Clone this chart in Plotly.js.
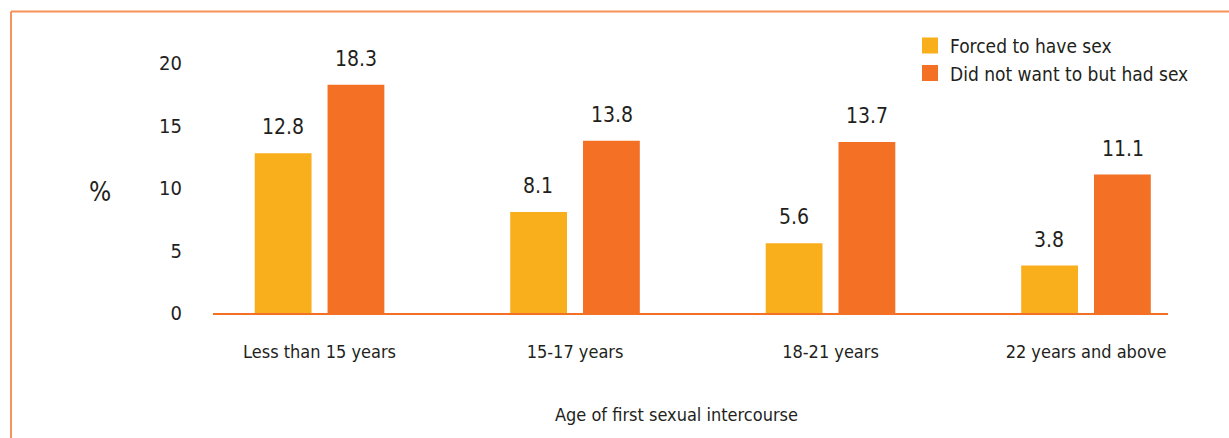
<!DOCTYPE html>
<html>
<head>
<meta charset="utf-8">
<script src="https://cdn.plot.ly/plotly-3.0.1.min.js"></script>
<style>
  html, body { margin: 0; padding: 0; background: #fff; }
  #chart { width: 1229px; height: 438px; }
</style>
</head>
<body>
<div id="chart"></div>
<script>
const categories = ["Less than 15 years", "15-17 years", "18-21 years", "22 years and above"];
const forced = [12.8, 8.1, 5.6, 3.8];
const didNotWant = [18.3, 13.8, 13.7, 11.1];
const seriesNames = ["Forced to have sex", "Did not want to but had sex"];
const yTicks = [0, 5, 10, 15, 20];

const FONT = '"DejaVu Sans Condensed", "Liberation Sans Narrow", "Liberation Sans", Arial, sans-serif';
const TXT = '#231F20';
const C1 = '#F9AE1B';
const C2 = '#F37024';

const traces = [
  { type: 'bar', name: seriesNames[0], x: categories, y: forced, marker: { color: C1 }, showlegend: false },
  { type: 'bar', name: seriesNames[1], x: categories, y: didNotWant, marker: { color: C2 }, showlegend: false },
  { type: 'scatter', mode: 'markers', name: seriesNames[0], x: [null], y: [null],
    marker: { symbol: 'square', size: 19, color: C1 }, showlegend: true },
  { type: 'scatter', mode: 'markers', name: seriesNames[1], x: [null], y: [null],
    marker: { symbol: 'square', size: 19, color: C2 }, showlegend: true }
];

const off = 0.143;
const annotations = [];
[forced, didNotWant].forEach((vals, s) => {
  vals.forEach((v, i) => {
    annotations.push({
      x: i + (s === 0 ? -off : off), y: v, xref: 'x', yref: 'y',
      text: v.toFixed(1), showarrow: false, yanchor: 'middle', yshift: 26,
      font: { family: FONT, size: 21, color: TXT }
    });
  });
});
annotations.push({
  xref: 'paper', yref: 'paper', x: (100 - 213) / 955, y: (313 - 192) / 262.5,
  text: '%', showarrow: false, xanchor: 'center', yanchor: 'middle',
  font: { family: FONT, size: 26, color: TXT }
});
annotations.push({
  xref: 'paper', yref: 'paper', x: (676 - 213) / 955, y: (313 - 415) / 262.5,
  text: 'Age of first sexual intercourse', showarrow: false, xanchor: 'center', yanchor: 'middle',
  font: { family: FONT, size: 18, color: TXT }
});

const layout = {
  width: 1229, height: 438,
  margin: { l: 213, r: 61, t: 50.5, b: 125, pad: 0 },
  paper_bgcolor: '#fff', plot_bgcolor: '#fff',
  barmode: 'group', bargap: 0.43, bargroupgap: 0.22,
  showlegend: true,
  legend: {
    x: (910 - 213) / 955, y: (313 - 26) / 262.5, xanchor: 'left', yanchor: 'top',
    font: { family: FONT, size: 19, color: TXT },
    bgcolor: 'rgba(0,0,0,0)', tracegroupgap: 0, itemsizing: 'trace', itemwidth: 30
  },
  xaxis: {
    type: 'category', range: [-0.417, 3.321],
    showline: true, linecolor: '#F37024', linewidth: 2,
    showgrid: false, zeroline: false, ticks: '',
    tickfont: { family: FONT, size: 18, color: TXT }, ticklabelstandoff: 21
  },
  yaxis: {
    range: [0, 21], tickvals: yTicks, ticktext: yTicks.map(String),
    showline: false, showgrid: false, zeroline: false, ticks: '',
    tickfont: { family: FONT, size: 20, color: TXT }, ticklabelstandoff: 30
  },
  annotations: annotations,
  shapes: [
    { type: 'line', xref: 'paper', yref: 'paper', x0: (11 - 213) / 955, x1: (11 - 213) / 955,
      y0: (313 - 11) / 262.5, y1: (313 - 440) / 262.5, line: { color: '#F7925A', width: 2 } },
    { type: 'line', xref: 'paper', yref: 'paper', x0: (11 - 213) / 955, x1: (1232 - 213) / 955,
      y0: (313 - 11) / 262.5, y1: (313 - 11) / 262.5, line: { color: '#F7925A', width: 2 } }
  ]
};

Plotly.newPlot('chart', traces, layout, { staticPlot: true, displayModeBar: false });
</script>
</body>
</html>
